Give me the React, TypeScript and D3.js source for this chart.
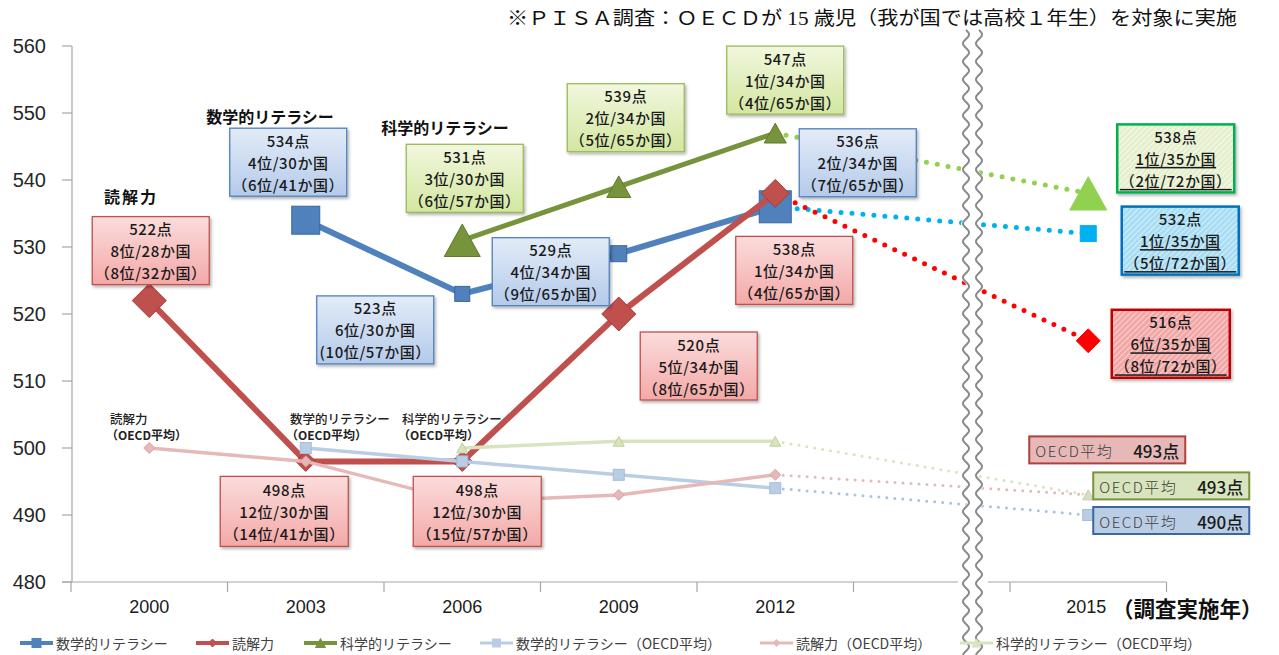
import React from "react";
import * as d3 from "d3";

// ---------- data ----------
const years = ["2000", "2003", "2006", "2009", "2012", "gap", "2015"];
const yTicks = [480, 490, 500, 510, 520, 530, 540, 550, 560];

const mathYears = ["2003", "2006", "2009", "2012"];
const mathValues = [534, 523, 529, 536];
const readingYears = ["2000", "2003", "2006", "2009", "2012"];
const readingValues = [522, 498, 498, 520, 538];
const scienceYears = ["2006", "2009", "2012"];
const scienceValues = [531, 539, 547];

const math2015 = 532;
const reading2015 = 516;
const science2015 = 538;

const mathOecdYears = ["2003", "2006", "2009", "2012"];
const mathOecdValues = [500, 498, 496, 494];
const readingOecdYears = ["2000", "2003", "2006", "2009", "2012"];
const readingOecdValues = [500, 498, 492, 493, 496];
const scienceOecdYears = ["2006", "2009", "2012"];
const scienceOecdValues = [500, 501, 501];
const mathOecd2015 = 490;
const readingOecd2015 = 493;
const scienceOecd2015 = 493;

const mathRanks = ["4位/30か国", "6位/30か国", "4位/34か国", "2位/34か国"];
const mathRanksAll = ["（6位/41か国）", "(10位/57か国）", "（9位/65か国）", "（7位/65か国）"];
const readingRanks = ["8位/28か国", "12位/30か国", "12位/30か国", "5位/34か国", "1位/34か国"];
const readingRanksAll = ["（8位/32か国）", "（14位/41か国）", "（15位/57か国）", "（8位/65か国）", "（4位/65か国）"];
const scienceRanks = ["3位/30か国", "2位/34か国", "1位/34か国"];
const scienceRanksAll = ["（6位/57か国）", "（5位/65か国）", "（4位/65か国）"];
const math2015Ranks = ["1位/35か国", "（5位/72か国）"];
const reading2015Ranks = ["6位/35か国", "（8位/72か国）"];
const science2015Ranks = ["1位/35か国", "（2位/72か国）"];

const legendLabels = [
  "数学的リテラシー",
  "読解力",
  "科学的リテラシー",
  "数学的リテラシー（OECD平均）",
  "読解力（OECD平均）",
  "科学的リテラシー（OECD平均）",
];
const noteText = "※ＰＩＳＡ調査：ＯＥＣＤが 15 歳児（我が国では高校１年生）を対象に実施";

// ---------- layout / styles ----------
const W = 1279;
const H = 655;
const FONT_JP = "'Noto Sans CJK JP', 'Noto Sans', sans-serif";
const C = {
  math: "#4F81BD",
  mathDark: "#3A679E",
  reading: "#C0504D",
  readingDark: "#A53B38",
  science: "#77933C",
  scienceDark: "#5E7A2C",
  mathOecd: "#B9CDE5",
  readingOecd: "#E6B9B8",
  scienceOecd: "#D7E4BD",
  math15: "#00B0F0",
  reading15: "#FF0000",
  science15: "#92D050",
};
const mathSizes = [28, 15, 16, 32];
const readingSizes = [34, 20, 20, 34, 28];
const scienceSizes = [36, 24, 22];
const mathOffsets = [[-17.5, -58], [-87, 36], [-68, 18], [82.5, -44]];
const readingOffsets = [[1.5, -50], [-21.5, 50], [15, 50], [80, 52], [19, 77]];
const scienceOffsets = [[2.5, -62], [7, -69], [10, -53]];
const legendSampleX = [20, 196, 304, 480, 760, 960];

const x = d3.scaleBand<string>().domain(years).range([71, 1166.5]).padding(0);
const cx = (yr: string) => (x(yr) as number) + x.bandwidth() / 2;
const y = d3.scaleLinear().domain([480, 560]).range([582, 46]);

type Pt = [string, number];
const line = d3
  .line<Pt>()
  .x((d) => cx(d[0]))
  .y((d) => y(d[1]));

const zip = (ys: string[], vs: number[]): Pt[] => ys.map((yr, i) => [yr, vs[i]]);

function Marker({ shape, px, py, s, fill, stroke, sw = 1 }: any) {
  if (shape === "square")
    return <rect x={px - s / 2} y={py - s / 2} width={s} height={s} fill={fill} stroke={stroke} strokeWidth={sw} />;
  if (shape === "diamond") {
    const h = s / 2;
    return (
      <polygon
        points={`${px},${py - h} ${px + h},${py} ${px},${py + h} ${px - h},${py}`}
        fill={fill}
        stroke={stroke}
        strokeWidth={sw}
      />
    );
  }
  const h = s * 0.9;
  return (
    <polygon
      points={`${px},${py - h / 2} ${px + s / 2},${py + h / 2} ${px - s / 2},${py + h / 2}`}
      fill={fill}
      stroke={stroke}
      strokeWidth={sw}
    />
  );
}

function Box({ bx, by, w = 117, h = 68, lines, fill, stroke, sw = 1.3, underline = false, shadow = true }: any) {
  return (
    <g>
      <rect
        x={bx - w / 2}
        y={by - h / 2}
        width={w}
        height={h}
        fill={fill}
        stroke={stroke}
        strokeWidth={sw}
        filter={shadow ? "url(#shadow)" : undefined}
      />
      {lines.map((t: string, i: number) => (
        <text
          key={i}
          x={bx}
          y={by + (i - 1) * 22}
          textAnchor="middle"
          dominantBaseline="central"
          fontFamily={FONT_JP}
          fontSize={15}
          fontWeight={500}
          letterSpacing={0.6}
          fill="#1a1a1a"
          textDecoration={underline && i > 0 ? "underline" : undefined}
        >
          {t}
        </text>
      ))}
    </g>
  );
}

function wave(x0: number, y0: number, y1: number) {
  const pts: [number, number][] = [];
  for (let yy = y0; yy <= y1; yy += 1) pts.push([x0 + 3 * Math.sin((2 * Math.PI * (yy - y0)) / 18), yy]);
  return pts;
}

export default function App() {
  const waveL = wave(966, 30, 655);
  const waveR = wave(979, 30, 655);
  const lg = d3.line();
  const breakPoly = [...waveL.map(([a, b]) => [a - 2, b]), ...waveR.slice().reverse().map(([a, b]) => [a + 2, b])];

  const mathPts = zip(mathYears, mathValues);
  const readingPts = zip(readingYears, readingValues);
  const sciencePts = zip(scienceYears, scienceValues);
  const mathOPts = zip(mathOecdYears, mathOecdValues);
  const readingOPts = zip(readingOecdYears, readingOecdValues);
  const scienceOPts = zip(scienceOecdYears, scienceOecdValues);

  const last = (a: Pt[]) => a[a.length - 1];

  const bandEdges = years.map((yr) => x(yr) as number).concat([x.range()[1]]);

  const legendStyles = [
    { color: C.math, shape: "square", s: 9, w: 4 },
    { color: C.reading, shape: "diamond", s: 8, w: 4 },
    { color: C.science, shape: "triangle", s: 10, w: 4 },
    { color: C.mathOecd, shape: "square", s: 8, w: 3 },
    { color: C.readingOecd, shape: "diamond", s: 7, w: 3 },
    { color: C.scienceOecd, shape: "triangle", s: 9, w: 3 },
  ];

  return (
    <svg width={W} height={H} style={{ position: "absolute", left: 0, top: 0, background: "#fff" }}>
      <defs>
        <filter id="shadow" x="-10%" y="-10%" width="130%" height="140%">
          <feDropShadow dx="1.5" dy="2" stdDeviation="1.5" floodColor="#000" floodOpacity="0.3" />
        </filter>
        <linearGradient id="gRed" x1="0" y1="0" x2="0" y2="1">
          <stop offset="0" stopColor="#FBDCDC" />
          <stop offset="1" stopColor="#F3A9A7" />
        </linearGradient>
        <linearGradient id="gBlue" x1="0" y1="0" x2="0" y2="1">
          <stop offset="0" stopColor="#E3ECF8" />
          <stop offset="1" stopColor="#B4CAEA" />
        </linearGradient>
        <linearGradient id="gGreen" x1="0" y1="0" x2="0" y2="1">
          <stop offset="0" stopColor="#F1F7DE" />
          <stop offset="1" stopColor="#D3E7A0" />
        </linearGradient>
        <pattern id="hGreen" width="4" height="4" patternUnits="userSpaceOnUse" patternTransform="rotate(45)">
          <rect width="4" height="4" fill="#E4EFCB" />
          <line x1="0" y1="0" x2="0" y2="4" stroke="#FFFFFF" strokeWidth="1.4" />
        </pattern>
        <pattern id="hBlue" width="4" height="4" patternUnits="userSpaceOnUse" patternTransform="rotate(45)">
          <rect width="4" height="4" fill="#A8DDF3" />
          <line x1="0" y1="0" x2="0" y2="4" stroke="#E8F6FC" strokeWidth="1.4" />
        </pattern>
        <pattern id="hRed" width="4" height="4" patternUnits="userSpaceOnUse" patternTransform="rotate(45)">
          <rect width="4" height="4" fill="#F2A7A7" />
          <line x1="0" y1="0" x2="0" y2="4" stroke="#FBE3E3" strokeWidth="1.4" />
        </pattern>
      </defs>

      {/* note */}
      <text
        x={507}
        y={25}
        fontFamily="'Liberation Serif', 'Noto Sans CJK JP', serif"
        fontSize={19}
        fill="#111"
        textLength={730}
        lengthAdjust="spacingAndGlyphs"
      >
        {noteText}
      </text>

      {/* y axis */}
      <line x1={72} x2={72} y1={y(560)} y2={y(480)} stroke="#A6A6A6" strokeWidth={1.2} />
      {yTicks.map((t) => (
        <g key={t}>
          <line x1={62} x2={72} y1={y(t)} y2={y(t)} stroke="#A6A6A6" strokeWidth={1.2} />
          <text
            x={46}
            y={y(t)}
            textAnchor="end"
            dominantBaseline="central"
            fontFamily="'Liberation Sans', Arial, sans-serif"
            fontSize={20}
            fill="#262626"
          >
            {t}
          </text>
        </g>
      ))}

      {/* x axis */}
      <line x1={62} x2={958} y1={y(480)} y2={y(480)} stroke="#A6A6A6" strokeWidth={1.2} />
      <line x1={988} x2={x.range()[1]} y1={y(480)} y2={y(480)} stroke="#A6A6A6" strokeWidth={1.2} />
      {bandEdges.map((e, i) => (
        <line key={i} x1={e} x2={e} y1={y(480)} y2={y(480) + 10} stroke="#A6A6A6" strokeWidth={1.2} />
      ))}

      {/* dotted extensions to 2015 */}
      <path d={line([last(scienceOPts), ["2015", scienceOecd2015]]) || ""} stroke={C.scienceOecd} strokeWidth={3} strokeDasharray="0 8" strokeLinecap="round" fill="none" />
      <path d={line([last(readingOPts), ["2015", readingOecd2015]]) || ""} stroke={C.readingOecd} strokeWidth={3} strokeDasharray="0 8" strokeLinecap="round" fill="none" />
      <path d={line([last(mathOPts), ["2015", mathOecd2015]]) || ""} stroke="#A9C2E2" strokeWidth={3} strokeDasharray="0 8" strokeLinecap="round" fill="none" />
      <path d={line([last(sciencePts), ["2015", science2015]]) || ""} stroke={C.science15} strokeWidth={5} strokeDasharray="0 11" strokeLinecap="round" fill="none" />
      <path d={line([last(mathPts), ["2015", math2015]]) || ""} stroke={C.math15} strokeWidth={5} strokeDasharray="0 11" strokeLinecap="round" fill="none" />
      <path d={line([last(readingPts), ["2015", reading2015]]) || ""} stroke={C.reading15} strokeWidth={5} strokeDasharray="0 11" strokeLinecap="round" fill="none" />

      {/* main series */}
      <path d={line(mathPts) || ""} stroke={C.math} strokeWidth={6} fill="none" />
      {mathPts.map((d, i) => (
        <Marker key={i} shape="square" px={cx(d[0])} py={y(d[1])} s={mathSizes[i]} fill={C.math} stroke={C.mathDark} />
      ))}
      <path d={line(readingPts) || ""} stroke={C.reading} strokeWidth={6} fill="none" />
      {readingPts.map((d, i) => (
        <Marker key={i} shape="diamond" px={cx(d[0])} py={y(d[1])} s={readingSizes[i]} fill={C.reading} stroke={C.readingDark} />
      ))}
      <path d={line(sciencePts) || ""} stroke={C.science} strokeWidth={5} fill="none" />
      {sciencePts.map((d, i) => (
        <Marker key={i} shape="triangle" px={cx(d[0])} py={y(d[1])} s={scienceSizes[i]} fill={C.science} stroke={C.scienceDark} />
      ))}

      {/* OECD series */}
      <path d={line(mathOPts) || ""} stroke={C.mathOecd} strokeWidth={3.5} fill="none" />
      {mathOPts.map((d, i) => (
        <Marker key={i} shape="square" px={cx(d[0])} py={y(d[1])} s={11} fill={C.mathOecd} stroke="#A5BCDA" />
      ))}
      <path d={line(readingOPts) || ""} stroke={C.readingOecd} strokeWidth={3.5} fill="none" />
      {readingOPts.map((d, i) => (
        <Marker key={i} shape="diamond" px={cx(d[0])} py={y(d[1])} s={11} fill={C.readingOecd} stroke="#D9A3A2" />
      ))}
      <path d={line(scienceOPts) || ""} stroke={C.scienceOecd} strokeWidth={3.5} fill="none" />
      {scienceOPts.map((d, i) => (
        <Marker key={i} shape="triangle" px={cx(d[0])} py={y(d[1])} s={11} fill={C.scienceOecd} stroke="#BFD19C" />
      ))}

      {/* 2015 markers */}
      <Marker shape="triangle" px={cx("2015")} py={y(science2015)} s={37} fill={C.science15} stroke={C.science15} />
      <Marker shape="square" px={cx("2015")} py={y(math2015)} s={16} fill={C.math15} stroke={C.math15} />
      <Marker shape="diamond" px={cx("2015")} py={y(reading2015)} s={24} fill={C.reading15} stroke={C.reading15} />
      <Marker shape="triangle" px={cx("2015")} py={y(scienceOecd2015)} s={11} fill="#D8DDC4" stroke="#C5CCAA" />
      <Marker shape="square" px={cx("2015")} py={y(mathOecd2015)} s={11} fill={C.mathOecd} stroke="#A5BCDA" />

      {/* break */}
      <path d={lg(breakPoly as [number, number][]) + "Z"} fill="#fff" stroke="none" />
      <path d={lg(waveL) || ""} stroke="#8a8a8a" strokeWidth={2} fill="none" />
      <path d={lg(waveR) || ""} stroke="#8a8a8a" strokeWidth={2} fill="none" />

      {/* x labels */}
      {years
        .filter((yr) => yr !== "gap")
        .map((yr) => (
          <text
            key={yr}
            x={cx(yr) - (yr === "2015" ? 2 : 0)}
            y={607}
            textAnchor="middle"
            dominantBaseline="central"
            fontFamily="'Liberation Sans', Arial, sans-serif"
            fontSize={18}
            fill="#1a1a1a"
          >
            {yr}
          </text>
        ))}
      <text x={1112} y={607} dominantBaseline="central" fontFamily={FONT_JP} fontWeight={700} fontSize={21.5} fill="#111">
        （調査実施年）
      </text>

      {/* series titles */}
      <text x={131} y={196} textAnchor="middle" dominantBaseline="central" fontFamily={FONT_JP} fontWeight={700} fontSize={16} letterSpacing={2} fill="#111">
        読解力
      </text>
      <text x={270} y={116} textAnchor="middle" dominantBaseline="central" fontFamily={FONT_JP} fontWeight={700} fontSize={16} fill="#111">
        数学的リテラシー
      </text>
      <text x={445} y={127} textAnchor="middle" dominantBaseline="central" fontFamily={FONT_JP} fontWeight={700} fontSize={16} fill="#111">
        科学的リテラシー
      </text>

      {/* OECD labels */}
      {[
        ["読解力", 110],
        ["数学的リテラシー", 290],
        ["科学的リテラシー", 402],
      ].map(([t, lx]) => (
        <g key={t as string}>
          <text x={lx as number} y={418} dominantBaseline="central" fontFamily={FONT_JP} fontWeight={500} fontSize={12.5} fill="#222">
            {t}
          </text>
          <text x={(lx as number) - 4} y={434} dominantBaseline="central" fontFamily={FONT_JP} fontWeight={600} fontSize={12} fill="#222">
            （OECD平均）
          </text>
        </g>
      ))}

      {/* annotation boxes */}
      {mathPts.map((d, i) => (
        <Box
          key={"m" + i}
          bx={cx(d[0]) + mathOffsets[i][0]}
          by={y(d[1]) + mathOffsets[i][1]}
          lines={[`${d[1]}点`, mathRanks[i], mathRanksAll[i]]}
          fill="url(#gBlue)"
          stroke={C.math}
        />
      ))}
      {sciencePts.map((d, i) => (
        <Box
          key={"s" + i}
          bx={cx(d[0]) + scienceOffsets[i][0]}
          by={y(d[1]) + scienceOffsets[i][1]}
          lines={[`${d[1]}点`, scienceRanks[i], scienceRanksAll[i]]}
          fill="url(#gGreen)"
          stroke="#9BBB59"
        />
      ))}
      {readingPts.map((d, i) => (
        <Box
          key={"r" + i}
          bx={cx(d[0]) + readingOffsets[i][0]}
          by={y(d[1]) + readingOffsets[i][1]}
          w={d[1] === 498 ? 128 : 117}
          h={d[1] === 498 ? 70 : 68}
          lines={[`${d[1]}点`, readingRanks[i], readingRanksAll[i]]}
          fill="url(#gRed)"
          stroke={C.reading}
        />
      ))}

      {/* 2015 boxes */}
      <Box bx={cx("2015") + 87.5} by={y(science2015) - 35} lines={[`${science2015}点`, ...science2015Ranks]} fill="url(#hGreen)" stroke="#00B050" sw={2.5} underline />
      <Box bx={cx("2015") + 92} by={y(math2015) + 7} lines={[`${math2015}点`, ...math2015Ranks]} fill="url(#hBlue)" stroke="#0070C0" sw={2.5} underline />
      <Box bx={cx("2015") + 82.5} by={y(reading2015) + 3} w={118} lines={[`${reading2015}点`, ...reading2015Ranks]} fill="url(#hRed)" stroke="#C00000" sw={2.5} underline />

      {/* OECD 2015 boxes */}
      {[
        { v: readingOecd2015, dx: 19, dy: -45, fill: "#E6B9B8", stroke: "#B0403D" },
        { v: scienceOecd2015, dx: 83, dy: -9, fill: "#D7E4BD", stroke: "#77933C" },
        { v: mathOecd2015, dx: 83, dy: 5.5, fill: "#B9CDE5", stroke: "#3A679E" },
      ].map((b, i) => {
        const bx = cx("2015") + b.dx;
        const by = y(b.v) + b.dy;
        return (
          <g key={i}>
            <rect x={bx - 78} y={by - 13.5} width={156} height={27} fill={b.fill} stroke={b.stroke} strokeWidth={2} />
            <text x={bx - 72} y={by + 1} dominantBaseline="central" fontFamily={FONT_JP} fontSize={15} fontWeight={300} fill="#404040" letterSpacing={1.5}>
              OECD平均
            </text>
            <text x={bx + 72} y={by + 1} textAnchor="end" dominantBaseline="central" fontFamily={FONT_JP} fontSize={17} fontWeight={500} fill="#1a1a1a">
              {b.v}点
            </text>
          </g>
        );
      })}

      {/* legend */}
      {legendLabels.map((t, i) => {
        const st = legendStyles[i];
        const lx = legendSampleX[i];
        return (
          <g key={t}>
            <line x1={lx} x2={lx + 33} y1={643} y2={643} stroke={st.color} strokeWidth={st.w} />
            <Marker shape={st.shape} px={lx + 16.5} py={643} s={st.s} fill={st.color} stroke={st.color} />
            <text x={lx + 36} y={643} dominantBaseline="central" fontFamily={FONT_JP} fontSize={14} fill="#404040">
              {t}
            </text>
          </g>
        );
      })}
    </svg>
  );
}
